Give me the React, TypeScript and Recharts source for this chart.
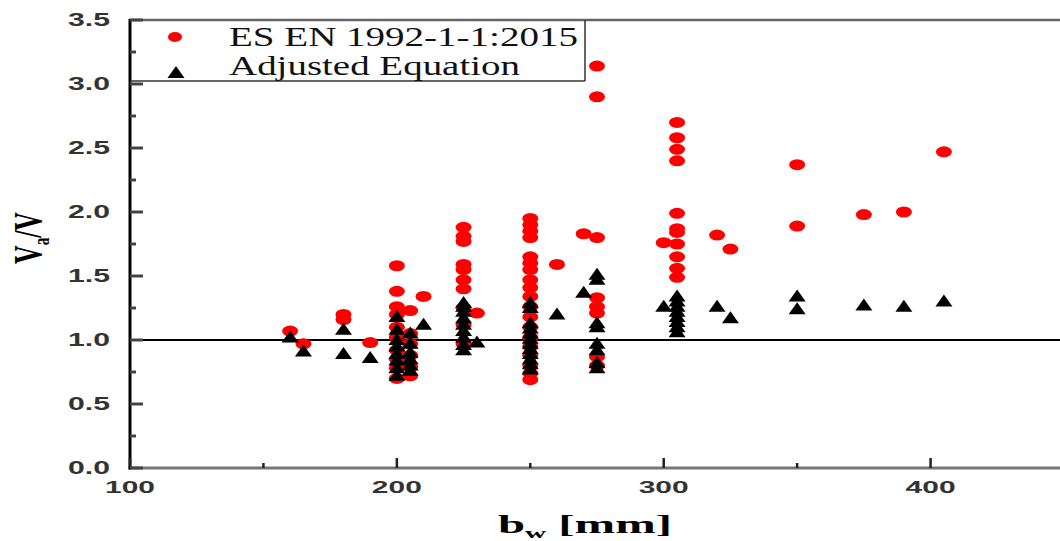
import React from "react";
import {
  ScatterChart,
  Scatter,
  XAxis,
  YAxis,
  ReferenceLine,
  Customized,
} from "recharts";

// beam width bw [mm] -> list of Va/V ratios
const eurocodeGroups: [number, number[]][] = [
  [160, [1.07]],
  [165, [0.97]],
  [180, [1.2, 1.16]],
  [190, [0.98]],
  [200, [1.58, 1.38, 1.26, 1.2, 1.1, 1.02, 0.92, 0.85, 0.78, 0.7]],
  [205, [1.23, 1.05, 0.97, 0.88, 0.79, 0.72]],
  [210, [1.34]],
  [225, [1.88, 1.81, 1.77, 1.59, 1.55, 1.47, 1.4, 1.25, 1.12, 0.97]],
  [230, [1.21]],
  [250, [1.95, 1.9, 1.85, 1.8, 1.65, 1.6, 1.55, 1.47, 1.41, 1.34, 1.26, 1.18, 1.1, 1.02, 0.95, 0.88, 0.8, 0.74, 0.69]],
  [260, [1.59]],
  [270, [1.83]],
  [275, [3.14, 2.9, 1.8, 1.33, 1.26, 1.21, 0.87, 0.8]],
  [300, [1.76]],
  [305, [2.7, 2.58, 2.49, 2.4, 1.99, 1.87, 1.84, 1.75, 1.65, 1.56, 1.49]],
  [320, [1.82]],
  [325, [1.71]],
  [350, [2.37, 1.89]],
  [375, [1.98]],
  [390, [2.0]],
  [405, [2.47]],
];

const adjustedGroups: [number, number[]][] = [
  [160, [1.02]],
  [165, [0.91]],
  [180, [1.08, 0.89]],
  [190, [0.86]],
  [200, [1.18, 1.08, 1.0, 0.95, 0.89, 0.84, 0.78, 0.72]],
  [205, [1.05, 0.97, 0.9, 0.85, 0.8, 0.76]],
  [210, [1.12]],
  [225, [1.29, 1.26, 1.22, 1.17, 1.12, 1.07, 1.02, 0.96, 0.92]],
  [230, [0.98]],
  [250, [1.29, 1.25, 1.13, 1.09, 1.05, 1.01, 0.97, 0.93, 0.89, 0.85, 0.81, 0.77]],
  [260, [1.2]],
  [270, [1.37]],
  [275, [1.51, 1.47, 1.13, 1.1, 0.97, 0.92, 0.82, 0.78]],
  [300, [1.26]],
  [305, [1.34, 1.3, 1.26, 1.22, 1.18, 1.14, 1.1, 1.06]],
  [320, [1.26]],
  [325, [1.17]],
  [350, [1.34, 1.24]],
  [375, [1.27]],
  [390, [1.26]],
  [405, [1.3]],
];

const xTicks = [100, 150, 200, 250, 300, 350, 400, 450];
const yTicks = [0, 0.25, 0.5, 0.75, 1, 1.25, 1.5, 1.75, 2, 2.25, 2.5, 2.75, 3, 3.25, 3.5];

const flatten = (groups: [number, number[]][]) =>
  groups.flatMap(([bw, vals]) => vals.map((r) => ({ bw, ratio: r })));

const eurocodeData = flatten(eurocodeGroups);
const adjustedData = flatten(adjustedGroups);

const SANS = "'Liberation Sans', Arial, sans-serif";
const SERIF = "'Liberation Serif', 'Times New Roman', serif";

// plot frame (layout, set by margins + axis sizes below)
const CHART_W = 1070;
const CHART_H = 541;
const LEFT = 130;
const TOP = 20;
const RIGHT = CHART_W - 6;
const BOTTOM = CHART_H - 43 - 30;

const RedDot = (props: any) => (
  <ellipse cx={props.cx} cy={props.cy} rx={8} ry={5.5} fill="#ff0000" />
);

const Triangle = (props: any) => {
  const { cx, cy } = props;
  return (
    <polygon
      points={`${cx},${cy - 7} ${cx - 8.5},${cy + 5} ${cx + 8.5},${cy + 5}`}
      fill="#000"
    />
  );
};

const isMajorY = (v: number) => Math.abs(v * 2 - Math.round(v * 2)) < 1e-6;

const LeftTick = (props: any) => {
  const { payload } = props;
  const y = payload.coordinate ?? props.y;
  const v = payload.value as number;
  const major = isMajorY(v);
  return (
    <g>
      <line x1={LEFT} x2={LEFT + (major ? 13 : 6)} y1={y} y2={y} stroke="#444" strokeWidth={3} />
      {major && (
        <text
          x={LEFT - 20}
          y={y}
          dy="0.36em"
          textAnchor="end"
          fontFamily={SANS}
          fontWeight="bold"
          fontSize={18}
          fill="#333"
          textLength={42}
          lengthAdjust="spacingAndGlyphs"
        >
          {v.toFixed(1)}
        </text>
      )}
    </g>
  );
};

const RightTick = (props: any) => {
  const { payload } = props;
  const y = payload.coordinate ?? props.y;
  const major = isMajorY(payload.value);
  return <line x1={RIGHT} x2={RIGHT - (major ? 14 : 7)} y1={y} y2={y} stroke="#555" strokeWidth={3} />;
};

const BottomTick = (props: any) => {
  const { payload } = props;
  const x = payload.coordinate ?? props.x;
  const v = payload.value as number;
  const major = v % 100 === 0;
  return (
    <g>
      <line x1={x} x2={x} y1={BOTTOM} y2={BOTTOM - (major ? 10 : 5)} stroke="#222" strokeWidth={2.5} />
      {major && (
        <text
          x={x}
          y={BOTTOM + 25}
          textAnchor="middle"
          fontFamily={SANS}
          fontWeight="bold"
          fontSize={17}
          fill="#333"
          textLength={50}
          lengthAdjust="spacingAndGlyphs"
        >
          {v}
        </text>
      )}
    </g>
  );
};

const YTitle = () => (
  <text
    transform={`translate(41, ${(TOP + BOTTOM) / 2 - 6}) scale(1.35, 1) rotate(-90)`}
    textAnchor="middle"
    fontFamily={SERIF}
    fontWeight="bold"
    fontSize={29}
    fill="#000"
    textLength={52}
    lengthAdjust="spacingAndGlyphs"
  >
    V
    <tspan fontSize={17} dy={6}>a</tspan>
    <tspan dy={-6}>/V</tspan>
  </text>
);

const XTitle = () => (
  <text
    x={498}
    y={533}
    fontFamily={SERIF}
    fontWeight="bold"
    fontSize={25}
    fill="#000"
    textLength={174}
    lengthAdjust="spacingAndGlyphs"
  >
    b
    <tspan fontSize={15} dy={5}>w</tspan>
    <tspan dy={-5}>{"  [mm]"}</tspan>
  </text>
);

const Frame = () => (
  <g>
    <line x1={LEFT} x2={RIGHT} y1={TOP} y2={TOP} stroke="#666" strokeWidth={2.5} />
    <line x1={LEFT - 1.5} x2={RIGHT} y1={BOTTOM} y2={BOTTOM} stroke="#777" strokeWidth={3} />
    <line x1={LEFT} x2={LEFT} y1={TOP - 1} y2={BOTTOM + 1.5} stroke="#000" strokeWidth={3} />
    <line x1={RIGHT} x2={RIGHT} y1={TOP} y2={BOTTOM} stroke="#555" strokeWidth={2.5} />
  </g>
);

const LegendBox = () => (
  <g>
    <rect x={132} y={22} width={453} height={59} fill="#fff" />
    <line x1={585} x2={585} y1={20} y2={81} stroke="#333" strokeWidth={1.5} />
    <line x1={130} x2={585} y1={81} y2={81} stroke="#333" strokeWidth={1.5} />
    <ellipse cx={175} cy={37} rx={7} ry={5} fill="#ff0000" />
    <polygon points="176,66 167.5,78 184.5,78" fill="#000" />
    <text
      x={229}
      y={46}
      fontFamily={SERIF}
      fontSize={27}
      fill="#111"
      textLength={349}
      lengthAdjust="spacingAndGlyphs"
    >
      ES EN 1992-1-1:2015
    </text>
    <text
      x={229}
      y={75}
      fontFamily={SERIF}
      fontSize={27}
      fill="#111"
      textLength={291}
      lengthAdjust="spacingAndGlyphs"
    >
      Adjusted Equation
    </text>
  </g>
);

export default function App() {
  return (
    <div
      style={{
        position: "absolute",
        left: 0,
        top: 0,
        width: 1060,
        height: 541,
        overflow: "hidden",
        background: "#fff",
      }}
    >
      <ScatterChart
        width={CHART_W}
        height={CHART_H}
        margin={{ top: 20, right: 0, bottom: 43, left: 0 }}
      >
        <XAxis
          type="number"
          dataKey="bw"
          domain={[100, 450]}
          ticks={xTicks}
          interval={0}
          height={30}
          tickLine={false}
          tick={<BottomTick />}
          axisLine={false}
          allowDataOverflow
        />
        <YAxis
          type="number"
          dataKey="ratio"
          domain={[0, 3.5]}
          ticks={yTicks}
          interval={0}
          width={130}
          tickLine={false}
          tick={<LeftTick />}
          axisLine={false}
          allowDataOverflow
        />
        <YAxis
          yAxisId="right"
          orientation="right"
          type="number"
          domain={[0, 3.5]}
          ticks={yTicks}
          interval={0}
          width={6}
          tickLine={false}
          tick={<RightTick />}
          axisLine={false}
        />
        <ReferenceLine y={1} stroke="#000" strokeWidth={2} />
        <Scatter
          name="ES EN 1992-1-1:2015"
          data={eurocodeData}
          shape={<RedDot />}
          isAnimationActive={false}
        />
        <Scatter
          name="Adjusted Equation"
          data={adjustedData}
          shape={<Triangle />}
          isAnimationActive={false}
        />
        <Customized component={<Frame />} />
        <Customized component={<LegendBox />} />
        <Customized component={<YTitle />} />
        <Customized component={<XTitle />} />
      </ScatterChart>
    </div>
  );
}
